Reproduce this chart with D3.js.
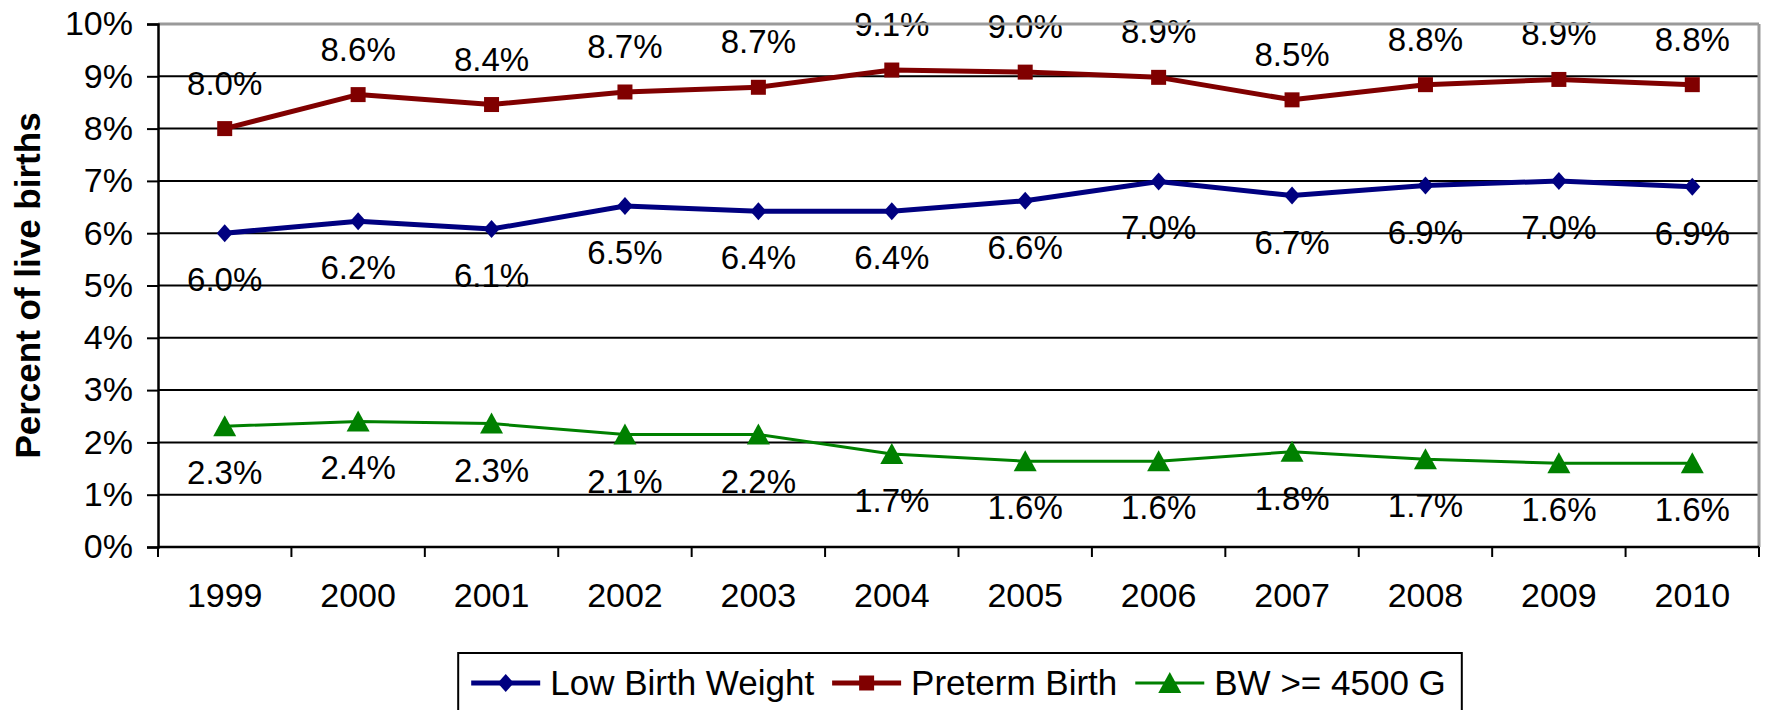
<!DOCTYPE html>
<html>
<head>
<meta charset="utf-8">
<script src="https://cdn.jsdelivr.net/npm/d3@7"></script>
<style>
  html, body { margin: 0; padding: 0; background: #fff; }
  svg { display: block; font-family: "Liberation Sans", Arial, sans-serif; }
</style>
</head>
<body>
<div id="chart"></div>
<script>
const years = ["1999", "2000", "2001", "2002", "2003", "2004", "2005", "2006", "2007", "2008", "2009", "2010"];
const yTicks = [0, 1, 2, 3, 4, 5, 6, 7, 8, 9, 10];

const lowBirthWeight = [6.0, 6.23, 6.08, 6.52, 6.42, 6.42, 6.62, 6.99, 6.72, 6.91, 7.0, 6.89];
const lowBirthWeightLabels = ["6.0%", "6.2%", "6.1%", "6.5%", "6.4%", "6.4%", "6.6%", "7.0%", "6.7%", "6.9%", "7.0%", "6.9%"];

const pretermBirth = [8.0, 8.65, 8.46, 8.70, 8.79, 9.12, 9.08, 8.98, 8.55, 8.84, 8.94, 8.84];
const pretermBirthLabels = ["8.0%", "8.6%", "8.4%", "8.7%", "8.7%", "9.1%", "9.0%", "8.9%", "8.5%", "8.8%", "8.9%", "8.8%"];

const bw4500 = [2.31, 2.40, 2.36, 2.15, 2.15, 1.78, 1.64, 1.64, 1.82, 1.68, 1.60, 1.60];
const bw4500Labels = ["2.3%", "2.4%", "2.3%", "2.1%", "2.2%", "1.7%", "1.6%", "1.6%", "1.8%", "1.7%", "1.6%", "1.6%"];

const width = 1765, height = 710;
const plot = { left: 158, right: 1759, top: 24, bottom: 547 };

const series = [
  { name: "Low Birth Weight", values: lowBirthWeight, labels: lowBirthWeightLabels, color: "#000080", stroke: 5, marker: "diamond", labelDy: 58 },
  { name: "Preterm Birth", values: pretermBirth, labels: pretermBirthLabels, color: "#800000", stroke: 5, marker: "square", labelDy: -34 },
  { name: "BW >= 4500 G", values: bw4500, labels: bw4500Labels, color: "#008000", stroke: 3, marker: "triangle", labelDy: 58 },
];

const svg = d3.select("#chart").append("svg")
  .attr("width", width)
  .attr("height", height);

const xScale = d3.scaleBand().domain(years).range([plot.left, plot.right]).padding(0);
const yScale = d3.scaleLinear().domain([0, 10]).range([plot.bottom, plot.top]);
const cx = d => xScale(d) + xScale.bandwidth() / 2;

// marker shapes centred on 0,0
function markerPath(type) {
  if (type === "diamond") return "M0,-9L8,0L0,9L-8,0Z";
  if (type === "square") return "M-7.5,-7.5H7.5V7.5H-7.5Z";
  return "M0,-11L11.5,10L-11.5,10Z";
}

// gridlines
svg.append("g")
  .attr("class", "grid")
  .selectAll("line")
  .data(yTicks.filter(t => t > 0 && t < 10))
  .enter().append("line")
  .attr("x1", plot.left).attr("x2", plot.right)
  .attr("y1", d => yScale(d)).attr("y2", d => yScale(d))
  .attr("stroke", "#000").attr("stroke-width", 2);

// data labels
series.forEach(s => {
  svg.append("g")
    .selectAll("text")
    .data(years)
    .enter().append("text")
    .attr("x", d => cx(d))
    .attr("y", (d, i) => yScale(s.values[i]) + s.labelDy)
    .attr("text-anchor", "middle")
    .style("font-size", "33px")
    .style("fill", "#000")
    .text((d, i) => s.labels[i]);
});

// plot border (top / right in grey)
svg.append("line")
  .attr("x1", plot.left).attr("x2", plot.right)
  .attr("y1", plot.top).attr("y2", plot.top)
  .attr("stroke", "#9a9a9a").attr("stroke-width", 3);
svg.append("line")
  .attr("x1", plot.right).attr("x2", plot.right)
  .attr("y1", plot.top).attr("y2", plot.bottom)
  .attr("stroke", "#9a9a9a").attr("stroke-width", 3);

// lines and markers
const line = d3.line()
  .x((d, i) => cx(years[i]))
  .y(d => yScale(d));

series.forEach(s => {
  const g = svg.append("g").attr("class", "series");
  g.append("path")
    .attr("d", line(s.values))
    .attr("fill", "none")
    .attr("stroke", s.color)
    .attr("stroke-width", s.stroke)
    .attr("stroke-linejoin", "round");
  g.selectAll("path.marker")
    .data(s.values)
    .enter().append("path")
    .attr("class", "marker")
    .attr("d", markerPath(s.marker))
    .attr("transform", (d, i) => `translate(${cx(years[i])},${yScale(d)})`)
    .attr("fill", s.color);
});

// y axis
const yAxis = svg.append("g")
  .attr("class", "axis axis-y")
  .attr("transform", `translate(${plot.left},0)`)
  .call(d3.axisLeft(yScale).tickValues(yTicks).tickSize(11).tickPadding(14).tickFormat(d => d + "%"));
yAxis.select(".domain").attr("stroke", "#000").attr("stroke-width", 2.5);
yAxis.selectAll(".tick line").attr("stroke", "#000").attr("stroke-width", 2);
yAxis.selectAll(".tick text")
  .style("font-size", "34px")
  .style("font-family", "'Liberation Sans', Arial, sans-serif")
  .attr("fill", "#000");

// x axis: ticks at category boundaries
const xAxis = svg.append("g")
  .attr("class", "axis axis-x")
  .attr("transform", `translate(0,${plot.bottom})`);
xAxis.append("line")
  .attr("x1", plot.left).attr("x2", plot.right)
  .attr("y1", 0).attr("y2", 0)
  .attr("stroke", "#000").attr("stroke-width", 2.5);
xAxis.selectAll("line.tick")
  .data(years.concat(["end"]))
  .enter().append("line")
  .attr("class", "tick")
  .attr("x1", d => d === "end" ? plot.right : xScale(d))
  .attr("x2", d => d === "end" ? plot.right : xScale(d))
  .attr("y1", 0).attr("y2", 10)
  .attr("stroke", "#000").attr("stroke-width", 2);
xAxis.selectAll("text")
  .data(years)
  .enter().append("text")
  .attr("x", d => cx(d))
  .attr("y", 60)
  .attr("text-anchor", "middle")
  .style("font-size", "34px")
  .text(d => d);

// y title
svg.append("text")
  .attr("transform", `translate(40,${(plot.top + plot.bottom) / 2}) rotate(-90)`)
  .attr("text-anchor", "middle")
  .style("font-size", "35px")
  .style("font-weight", "bold")
  .text("Percent of live births");

// legend
const legend = svg.append("g").attr("class", "legend");
const items = legend.selectAll("g.item")
  .data(series)
  .enter().append("g")
  .attr("class", "item");
items.append("text")
  .attr("x", 79)
  .attr("y", 12)
  .style("font-size", "35px")
  .text(d => d.name);
let offset = 0;
const lens = [];
items.each(function () {
  const w = d3.select(this).select("text").node().getComputedTextLength();
  lens.push(offset);
  offset += 79 + w + 18;
});
const totalW = offset - 18;
const legendLeft = (plot.left + plot.right) / 2 - totalW / 2;
items.attr("transform", (d, i) => `translate(${legendLeft + lens[i]},683)`);
items.append("line")
  .attr("x1", 0).attr("x2", 69)
  .attr("y1", 0).attr("y2", 0)
  .attr("stroke", d => d.color)
  .attr("stroke-width", d => d.stroke);
items.append("path")
  .attr("d", d => markerPath(d.marker))
  .attr("transform", "translate(34.5,0)")
  .attr("fill", d => d.color);
legend.insert("rect", ":first-child")
  .attr("x", legendLeft - 13)
  .attr("y", 653)
  .attr("width", totalW + 29)
  .attr("height", 80)
  .attr("fill", "#fff")
  .attr("stroke", "#000")
  .attr("stroke-width", 2);
</script>
</body>
</html>
